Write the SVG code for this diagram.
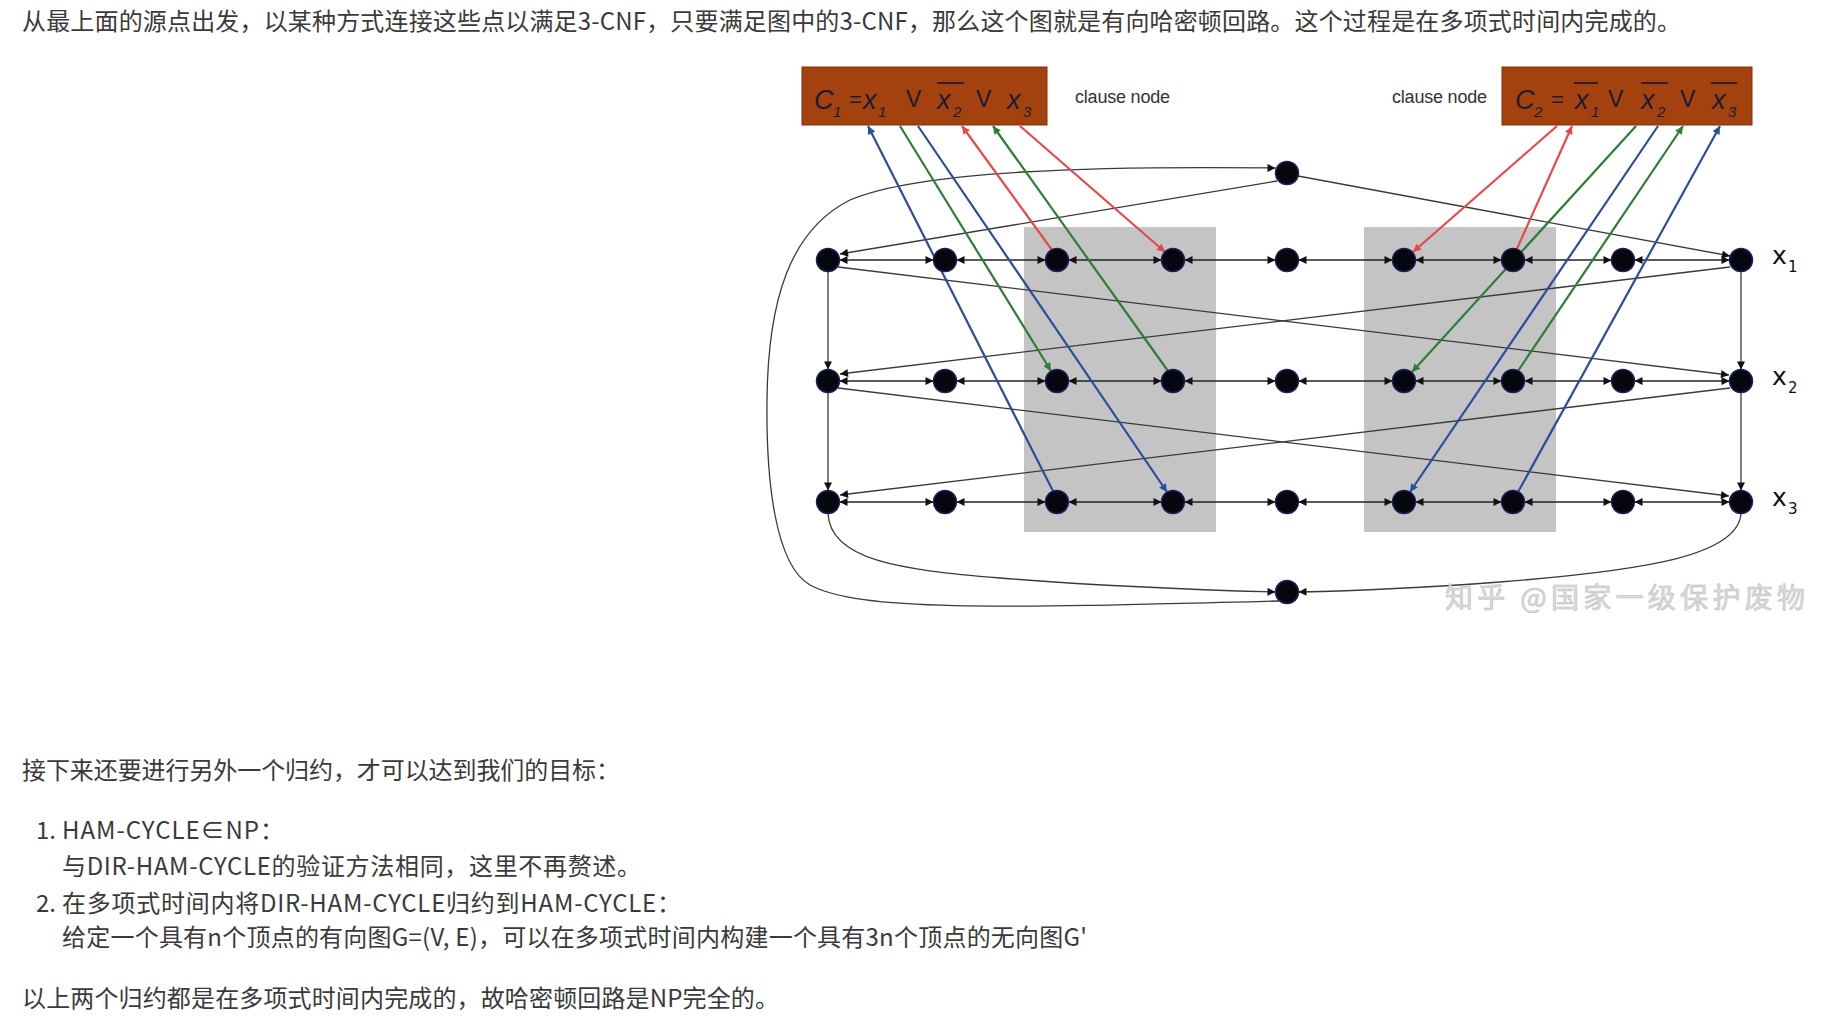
<svg xmlns="http://www.w3.org/2000/svg" width="1837" height="1030" viewBox="0 0 1837 1030">
<style>
.t{font-family:"Noto Sans CJK SC","Noto Sans",sans-serif;font-size:24px;fill:#3a3a3a}
.nd{fill:#06060f;stroke:#1e1e5c;stroke-width:1.5}
.h{stroke:#222;stroke-width:1.6;fill:none;marker-start:url(#ak);marker-end:url(#ak)}
.e{stroke:#3a3a3a;stroke-width:1.3;fill:none;marker-end:url(#ak)}
.r{stroke:#e5484a;stroke-width:2.2;fill:none;marker-end:url(#ar)}
.g{stroke:#2f7d36;stroke-width:2.2;fill:none;marker-end:url(#ag)}
.b{stroke:#2c4c9c;stroke-width:2.2;fill:none;marker-end:url(#ab)}
.box{fill:#a3420f;stroke:#7c300a;stroke-width:1}
.f{font-family:"Liberation Sans",sans-serif;font-size:27px;fill:#1b1b35;font-style:italic}
.fe{font-family:"Liberation Sans",sans-serif;font-size:22px;fill:#1b1b35}
.fv{font-family:"Liberation Sans",sans-serif;font-size:23px;fill:#1b1b35}
.fs{font-family:"Liberation Sans",sans-serif;font-size:15px;fill:#1b1b35;font-style:italic}
.ov{stroke:#1b1b35;stroke-width:1.7}
.cl{font-family:"Liberation Sans",sans-serif;font-size:18px;fill:#333}
.lx{font-family:"DejaVu Sans",sans-serif;font-size:25px;fill:#111}
.ls{font-family:"DejaVu Sans",sans-serif;font-size:15px;fill:#111}
.gad{fill:#c4c4c4}
</style>
<defs>
<marker id="ak" viewBox="0 0 10 10" refX="10" refY="5" markerWidth="9" markerHeight="8" markerUnits="userSpaceOnUse" orient="auto-start-reverse"><path d="M0,0L10,5L0,10z" fill="#111"/></marker>
<marker id="ar" viewBox="0 0 10 10" refX="10" refY="5" markerWidth="10" markerHeight="8" markerUnits="userSpaceOnUse" orient="auto"><path d="M0,0L10,5L0,10z" fill="#e5484a"/></marker>
<marker id="ag" viewBox="0 0 10 10" refX="10" refY="5" markerWidth="10" markerHeight="8" markerUnits="userSpaceOnUse" orient="auto"><path d="M0,0L10,5L0,10z" fill="#2f7d36"/></marker>
<marker id="ab" viewBox="0 0 10 10" refX="10" refY="5" markerWidth="10" markerHeight="8" markerUnits="userSpaceOnUse" orient="auto"><path d="M0,0L10,5L0,10z" fill="#2c4c9c"/></marker>
</defs>
<rect width="1837" height="1030" fill="#fff"/>

<g id="text">
<text class="t" x="22" y="30" textLength="1659" lengthAdjust="spacing">从最上面的源点出发，以某种方式连接这些点以满足3-CNF，只要满足图中的3-CNF，那么这个图就是有向哈密顿回路。这个过程是在多项式时间内完成的。</text>
<text class="t" x="22" y="779" textLength="598" lengthAdjust="spacing">接下来还要进行另外一个归约，才可以达到我们的目标：</text>
<text class="t" x="36" y="839">1.</text>
<text class="t" x="62" y="839" textLength="222" lengthAdjust="spacing">HAM-CYCLE∈NP：</text>
<text class="t" x="62" y="875" textLength="579" lengthAdjust="spacing">与DIR-HAM-CYCLE的验证方法相同，这里不再赘述。</text>
<text class="t" x="36" y="912">2.</text>
<text class="t" x="62" y="912" textLength="619" lengthAdjust="spacing">在多项式时间内将DIR-HAM-CYCLE归约到HAM-CYCLE：</text>
<text class="t" x="62" y="946" textLength="1025" lengthAdjust="spacing">给定一个具有n个顶点的有向图G=(V, E)，可以在多项式时间内构建一个具有3n个顶点的无向图G'</text>
<text class="t" x="22" y="1007" textLength="757" lengthAdjust="spacing">以上两个归约都是在多项式时间内完成的，故哈密顿回路是NP完全的。</text>
</g>

<g id="gadgets">
<rect class="gad" x="1024" y="227" width="192" height="305"/>
<rect class="gad" x="1364" y="227" width="192" height="305"/>
</g>

<g id="clause1">
<rect class="box" x="802" y="67" width="245" height="58"/>
<text class="f" x="814" y="109">C</text><text class="fs" x="833" y="117">1</text>
<text class="fe" x="849" y="107">=</text>
<text class="f" x="863" y="109">x</text><text class="fs" x="878" y="117">1</text>
<text class="fv" x="906" y="107">V</text>
<text class="f" x="937" y="109">x</text><text class="fs" x="953" y="117">2</text>
<line class="ov" x1="937" y1="83" x2="964" y2="83"/>
<text class="fv" x="976" y="107">V</text>
<text class="f" x="1007" y="109">x</text><text class="fs" x="1023" y="117">3</text>
<text class="cl" x="1075" y="103" textLength="95">clause node</text>
</g>

<g id="clause2">
<rect class="box" x="1502" y="67" width="250" height="58"/>
<text class="f" x="1515" y="109">C</text><text class="fs" x="1534" y="117">2</text>
<text class="fe" x="1551" y="107">=</text>
<text class="f" x="1575" y="109">x</text><text class="fs" x="1591" y="117">1</text>
<line class="ov" x1="1574" y1="83" x2="1598" y2="83"/>
<text class="fv" x="1608" y="107">V</text>
<text class="f" x="1641" y="109">x</text><text class="fs" x="1657" y="117">2</text>
<line class="ov" x1="1641" y1="83" x2="1668" y2="83"/>
<text class="fv" x="1680" y="107">V</text>
<text class="f" x="1712" y="109">x</text><text class="fs" x="1728" y="117">3</text>
<line class="ov" x1="1711" y1="83" x2="1737" y2="83"/>
<text class="cl" x="1392" y="103" textLength="95">clause node</text>
</g>

<g id="connectors">
<path class="h" d="M839.5,260H933.5"/><path class="h" d="M956.5,260H1045.5"/><path class="h" d="M1068.5,260H1161.5"/><path class="h" d="M1184.5,260H1275.5"/><path class="h" d="M1298.5,260H1392.5"/><path class="h" d="M1415.5,260H1501.5"/><path class="h" d="M1524.5,260H1611.5"/><path class="h" d="M1634.5,260H1729.5"/>
<path class="h" d="M839.5,381H933.5"/><path class="h" d="M956.5,381H1045.5"/><path class="h" d="M1068.5,381H1161.5"/><path class="h" d="M1184.5,381H1275.5"/><path class="h" d="M1298.5,381H1392.5"/><path class="h" d="M1415.5,381H1501.5"/><path class="h" d="M1524.5,381H1611.5"/><path class="h" d="M1634.5,381H1729.5"/>
<path class="h" d="M839.5,502H933.5"/><path class="h" d="M956.5,502H1045.5"/><path class="h" d="M1068.5,502H1161.5"/><path class="h" d="M1184.5,502H1275.5"/><path class="h" d="M1298.5,502H1392.5"/><path class="h" d="M1415.5,502H1501.5"/><path class="h" d="M1524.5,502H1611.5"/><path class="h" d="M1634.5,502H1729.5"/>
<path class="e" d="M828,271.5V369.5"/><path class="e" d="M828,392.5V490.5"/>
<path class="e" d="M1741,271.5V369.5"/><path class="e" d="M1741,392.5V490.5"/>
<path class="e" d="M838,267L1729,375"/>
<path class="e" d="M1730,267L840,374"/>
<path class="e" d="M838,388L1729,496"/>
<path class="e" d="M1730,388L840,495"/>
<path class="e" d="M1277,181L840,254"/>
<path class="e" d="M1298,176L1730,256"/>
<path class="e" d="M1279,601C1000,608 860,612 810,585C775,565 766,480 767,400C768,300 790,230 850,200C920,170 1100,166 1275.5,168"/>
<path class="e" d="M828,513.5C830,560 900,570 1000,578C1100,586 1200,590 1275.5,592"/>
<path class="e" d="M1741,513.5C1738,555 1650,570 1500,582C1420,588 1350,591 1298.5,592"/>
<path class="b" d="M1053,491L868,126"/>
<path class="b" d="M918,126L1167,492"/>
<path class="g" d="M900,126L1051,371"/>
<path class="g" d="M1168,371L993,126"/>
<path class="r" d="M1052,250L962,126"/>
<path class="r" d="M1020,126L1165,252"/>
<path class="r" d="M1557,126L1413,252"/>
<path class="r" d="M1516,251L1572,126"/>
<path class="g" d="M1636,126L1412,372"/>
<path class="g" d="M1518,371L1683,126"/>
<path class="b" d="M1658,126L1410,492"/>
<path class="b" d="M1518,492L1720,126"/>
</g>

<g id="nodes">
<g id="n-top"><circle class="nd" cx="1287" cy="173" r="11.5"/></g>
<g id="n-bottom"><circle class="nd" cx="1287" cy="592" r="11.5"/></g>
<g id="row1">
<circle class="nd" cx="828" cy="260" r="11.5"/><circle class="nd" cx="945" cy="260" r="11.5"/><circle class="nd" cx="1057" cy="260" r="11.5"/><circle class="nd" cx="1173" cy="260" r="11.5"/><circle class="nd" cx="1287" cy="260" r="11.5"/><circle class="nd" cx="1404" cy="260" r="11.5"/><circle class="nd" cx="1513" cy="260" r="11.5"/><circle class="nd" cx="1623" cy="260" r="11.5"/><circle class="nd" cx="1741" cy="260" r="11.5"/>
</g>
<g id="row2">
<circle class="nd" cx="828" cy="381" r="11.5"/><circle class="nd" cx="945" cy="381" r="11.5"/><circle class="nd" cx="1057" cy="381" r="11.5"/><circle class="nd" cx="1173" cy="381" r="11.5"/><circle class="nd" cx="1287" cy="381" r="11.5"/><circle class="nd" cx="1404" cy="381" r="11.5"/><circle class="nd" cx="1513" cy="381" r="11.5"/><circle class="nd" cx="1623" cy="381" r="11.5"/><circle class="nd" cx="1741" cy="381" r="11.5"/>
</g>
<g id="row3">
<circle class="nd" cx="828" cy="502" r="11.5"/><circle class="nd" cx="945" cy="502" r="11.5"/><circle class="nd" cx="1057" cy="502" r="11.5"/><circle class="nd" cx="1173" cy="502" r="11.5"/><circle class="nd" cx="1287" cy="502" r="11.5"/><circle class="nd" cx="1404" cy="502" r="11.5"/><circle class="nd" cx="1513" cy="502" r="11.5"/><circle class="nd" cx="1623" cy="502" r="11.5"/><circle class="nd" cx="1741" cy="502" r="11.5"/>
</g>
</g>

<g id="labels">
<text class="lx" x="1772" y="264">x</text><text class="ls" x="1788" y="272">1</text>
<text class="lx" x="1772" y="385">x</text><text class="ls" x="1788" y="393">2</text>
<text class="lx" x="1772" y="506">x</text><text class="ls" x="1788" y="514">3</text>
</g>

<g id="watermark">
<text x="1445" y="608" font-family="Noto Sans CJK SC,sans-serif" font-size="28" fill="#dcdcdc" stroke="#bdbdbd" stroke-width="0.6" textLength="360">知乎 @国家一级保护废物</text>
</g>
</svg>
